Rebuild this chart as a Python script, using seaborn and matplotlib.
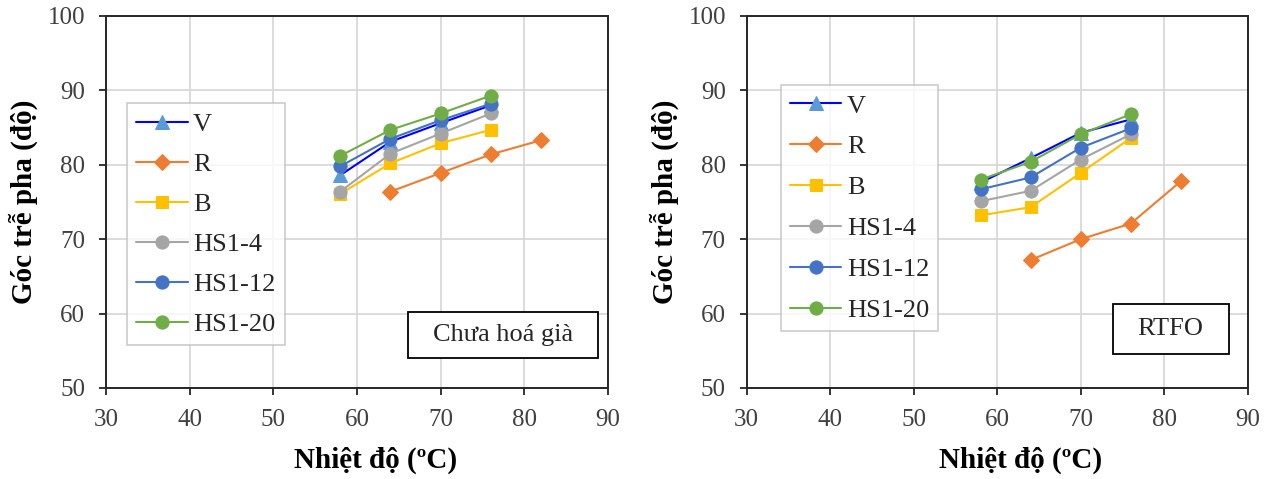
import matplotlib
matplotlib.use("Agg")
import matplotlib.pyplot as plt
import seaborn as sns
import pandas as pd
from matplotlib.patches import Rectangle

# ---- data ----
temps = [58, 64, 70, 76]
temps_r = [64, 70, 76, 82]
series_names = ["V", "R", "B", "HS1-4", "HS1-12", "HS1-20"]

unaged_V = [78.6, 83.1, 85.6, 88.0]
unaged_R = [76.4, 78.9, 81.4, 83.3]
unaged_B = [76.1, 80.2, 82.9, 84.7]
unaged_HS1_4 = [76.4, 81.5, 84.2, 86.9]
unaged_HS1_12 = [79.8, 83.5, 86.0, 88.2]
unaged_HS1_20 = [81.2, 84.7, 86.9, 89.3]

rtfo_V = [77.6, 80.9, 84.3, 86.1]
rtfo_R = [67.2, 70.0, 72.1, 77.8]
rtfo_B = [73.2, 74.3, 78.9, 83.6]
rtfo_HS1_4 = [75.1, 76.5, 80.7, 84.1]
rtfo_HS1_12 = [76.7, 78.3, 82.3, 84.9]
rtfo_HS1_20 = [78.0, 80.4, 84.1, 86.8]

x_ticks = [30, 40, 50, 60, 70, 80, 90]
y_ticks = [50, 60, 70, 80, 90, 100]
x_label = "Nhiệt độ (ºC)"
y_label = "Góc trễ pha (độ)"
panel_labels = ["Chưa hoá già", "RTFO"]

# ---- styles ----
styles = {
    "V": dict(color="#0000FF", marker="^", mfc="#5B9BD5", mec="#5B9BD5", ms=10),
    "R": dict(color="#ED7D31", marker="D", mfc="#ED7D31", mec="#ED7D31", ms=8),
    "B": dict(color="#FFC000", marker="s", mfc="#FFC000", mec="#FFC000", ms=9),
    "HS1-4": dict(color="#A5A5A5", marker="o", mfc="#A5A5A5", mec="#A5A5A5", ms=9.5),
    "HS1-12": dict(color="#4472C4", marker="o", mfc="#4472C4", mec="#4472C4", ms=9.5),
    "HS1-20": dict(color="#70AD47", marker="o", mfc="#70AD47", mec="#70AD47", ms=9.5),
}

sns.set_theme(style="white")
plt.rcParams["font.family"] = ["Liberation Serif", "DejaVu Serif"]

fig = plt.figure(figsize=(12.73, 4.79), dpi=100)
ax1 = fig.add_axes([106 / 1273, 1 - 388 / 479, 502 / 1273, 372 / 479])
ax2 = fig.add_axes([746.7 / 1273, 1 - 388 / 479, 501 / 1273, 372 / 479])

panels = [
    (ax1, [unaged_V, unaged_R, unaged_B, unaged_HS1_4, unaged_HS1_12, unaged_HS1_20],
     (0.042, 0.766), (0.6016, 0.0806, 0.3784, 0.1237), (0.791, 0.142), 0.536, 0.63),
    (ax2, [rtfo_V, rtfo_R, rtfo_B, rtfo_HS1_4, rtfo_HS1_12, rtfo_HS1_20],
     (0.068, 0.815), (0.7305, 0.0914, 0.2322, 0.1344), (0.846, 0.158), 0.547, 0.66),
]

for idx, (ax, vals, leg_anchor, rect, txt_pos, xlab_x, lsp) in enumerate(panels):
    for name, v in zip(series_names, vals):
        xs = temps_r if name == "R" else temps
        df = pd.DataFrame({"x": xs, "y": v})
        st = styles[name]
        sns.lineplot(data=df, x="x", y="y", ax=ax, color=st["color"], marker=st["marker"],
                     markerfacecolor=st["mfc"], markeredgecolor=st["mec"], markersize=st["ms"],
                     linewidth=1.5, label=name, sort=False)
    ax.set_xlim(30, 90)
    ax.set_ylim(50, 100)
    ax.set_xticks(x_ticks)
    ax.set_yticks(y_ticks)
    ax.grid(True, color="#D9D9D9", linewidth=1.3)
    ax.set_axisbelow(True)
    for sp in ax.spines.values():
        sp.set_color("#262626")
        sp.set_linewidth(1.4)
    ax.tick_params(axis="both", which="major", direction="out", length=5, width=1.3,
                   color="#262626", labelsize=18, labelcolor="#404040",
                   bottom=True, left=True, top=False, right=False, pad=10)
    ax.set_xlabel(x_label, fontsize=21, fontweight="bold", color="black")
    ax.xaxis.label.set_va("center")
    ax.xaxis.set_label_coords(xlab_x, -0.194)
    ax.set_ylabel(y_label, fontsize=21, fontweight="bold", color="black", labelpad=7)
    leg = ax.legend(loc="upper left", bbox_to_anchor=leg_anchor, borderaxespad=0,
                    fancybox=False, frameon=True, edgecolor="#BFBFBF", fontsize=19,
                    handlelength=1.95, labelspacing=lsp, handletextpad=0.2,
                    borderpad=0.35)
    leg.get_frame().set_linewidth(1.2)
    for t in leg.get_texts():
        t.set_color("#262626")
    ax.add_patch(Rectangle((rect[0], rect[1]), rect[2], rect[3], transform=ax.transAxes,
                           facecolor="white", edgecolor="black", linewidth=1.3, zorder=5))
    ax.text(txt_pos[0], txt_pos[1], panel_labels[idx], transform=ax.transAxes,
            ha="center", va="center", fontsize=19, color="#262626", zorder=6)

fig.savefig("out.png", dpi=100)
